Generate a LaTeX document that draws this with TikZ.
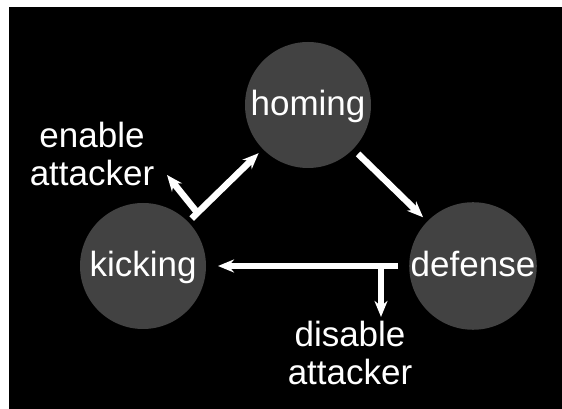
\documentclass[tikz,border=0pt]{standalone}
\usepackage{fontspec}
\setmainfont{Liberation Sans}
\usetikzlibrary{positioning,arrows.meta,calc}
\tikzstyle{state} = [circle,fill=black!74,text=white,minimum size=126pt,inner sep=0,outer sep=0,text height=25.5pt,text depth=3.5pt]
\tikzstyle{lbl} = [align=center,text=white,inner sep=0]
\tikzstyle{arrow} = [white,line width=6.5pt,-{Stealth[length=16pt,width=13pt]}]

\begin{document}
\begin{tikzpicture}[x=1pt,y=1pt,font=\fontsize{35}{38}\selectfont]
    \fill [white] (0,0) rectangle (562,409);
    \fill [black] (9,0) rectangle (562,402);
    \node [state] (homing) at (308,304) {homing};
    \node [state] (kicking) at (143,143) {kicking};
    \node [state] (defense) at (473,143) {defense};
    \node [lbl] (enable) at (92,255) {enable\\attacker};
    \node [lbl] (disable) at (350,56) {disable\\attacker};
    \coordinate (en) at ($(kicking)!0.33!(homing)$);
    \coordinate (enTip) at (167,234);
    \coordinate (dis) at (381,143);
    \draw [arrow,shorten <=5pt,shorten >=6pt] (kicking) -- (homing);
    \draw [arrow,shorten <=7pt,shorten >=6pt] (homing) -- (defense);
    \draw [arrow,shorten <=11pt,shorten >=12pt] (defense) -- (kicking);
    \draw [arrow] (en) -- (enTip);
    \draw [arrow,shorten >=4pt] (dis) -- (dis |- disable.north);
  \end{tikzpicture}
\end{document}
